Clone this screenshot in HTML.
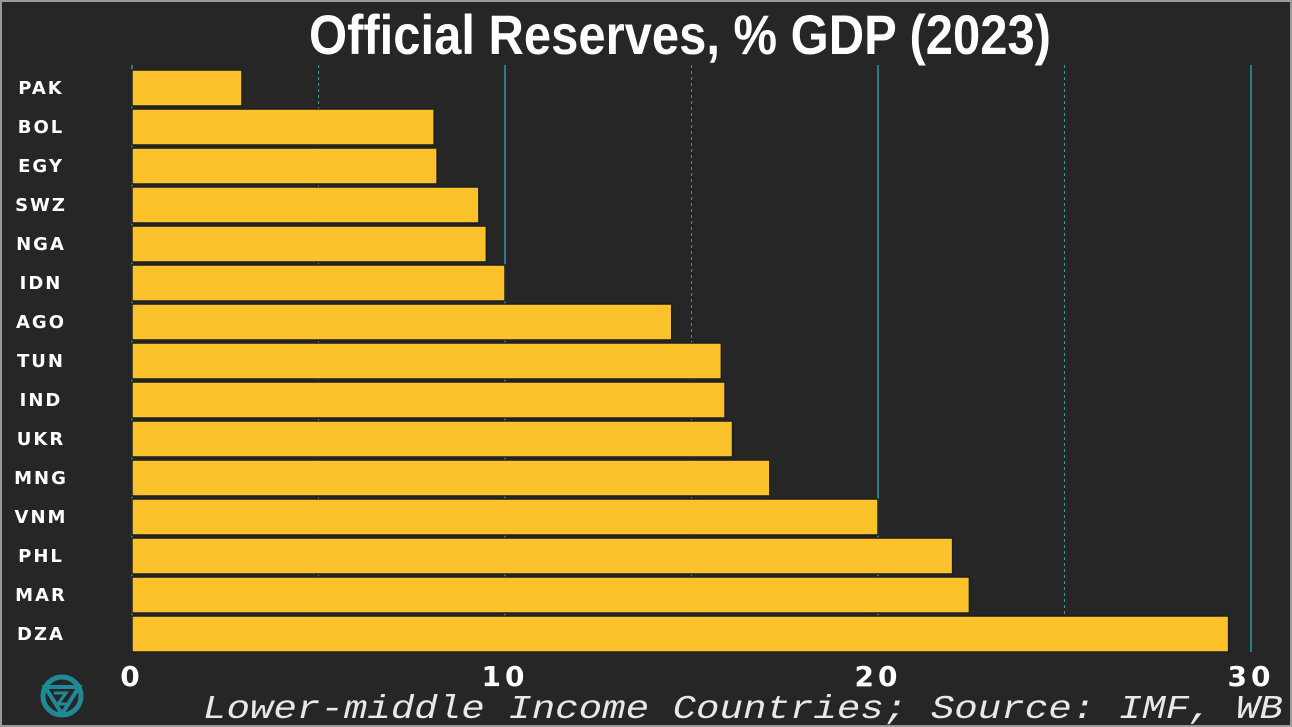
<!DOCTYPE html>
<html><head><meta charset="utf-8"><style>
html,body{margin:0;padding:0;background:#262626;}
svg{display:block;}
</style></head><body>
<svg id="chart" width="1292" height="727" xmlns="http://www.w3.org/2000/svg">
<rect x="1" y="1" width="1290" height="725" fill="#262626" stroke="#9a9a9a" stroke-width="2"/>
<text x="680" y="54" text-anchor="middle" font-family="'Liberation Sans Narrow','Liberation Sans',sans-serif" font-weight="bold" font-size="56" fill="#ffffff" textLength="742" lengthAdjust="spacingAndGlyphs">Official Reserves, % GDP (2023)</text>
<g id="grid"></g><g id="bars"></g><g id="labels"></g><g id="ticks"></g>
<text x="203" y="718" font-family="'Liberation Mono',monospace" font-style="italic" font-size="33" fill="#e8e8e8" textLength="1080" lengthAdjust="spacingAndGlyphs">Lower-middle Income Countries; Source: IMF, WB</text>
<g transform="translate(62,696)" fill="none" stroke="#1f8a96" stroke-width="5">
<circle r="19"/><path d="M-17,-9 L17,-9 L0,18 Z" stroke-width="4"/><path d="M-8,-3 L4,-3 L-4,8 L6,8" stroke-width="3"/>
</g>
</svg>
<script>
const categories=["PAK","BOL","EGY","SWZ","NGA","IDN","AGO","TUN","IND","UKR","MNG","VNM","PHL","MAR","DZA"];
const values=[2.95,8.1,8.18,9.3,9.5,10.0,14.47,15.8,15.9,16.1,17.1,20.0,22.0,22.45,29.4];
const majorTicks=[0,10,20,30];
const minorTicks=[5,15,25];
const NS="http://www.w3.org/2000/svg";
const x=v=>132+v*37.3;
const y=i=>70+i*39;
function mk(tag,attrs,parent){const e=document.createElementNS(NS,tag);for(const k in attrs)e.setAttribute(k,attrs[k]);parent.appendChild(e);return e;}
const grid=document.getElementById('grid'),bars=document.getElementById('bars'),labels=document.getElementById('labels'),ticks=document.getElementById('ticks');
majorTicks.forEach(t=>{
 const l=mk('line',{x1:x(t),x2:x(t),y1:65,y2:652,stroke:'#2a9aa6','stroke-width':1.5},grid);
 
 
 const tx=mk('text',{x:x(t),y:686,'text-anchor':'middle','font-family':"'DejaVu Sans',sans-serif",'font-weight':'bold','font-size':28,fill:'#ffffff','letter-spacing':4},ticks);
 tx.textContent=t;
 
 
});
minorTicks.forEach(t=>{
 const l=mk('line',{x1:x(t),x2:x(t),y1:65,y2:652,stroke:'#2a9aa6','stroke-width':1,'stroke-dasharray':'3,3'},grid);
 
 
});
categories.forEach((c,i)=>{
 const r=mk('rect',{x:x(0),y:y(i),width:x(values[i])-x(0),height:36,fill:'#fcc22c',stroke:'#1e1e1e','stroke-width':1.5},bars);
 
 
 const t=mk('text',{x:41,y:y(i)+24,'text-anchor':'middle','font-family':"'DejaVu Sans',sans-serif",'font-weight':'bold','font-size':18,fill:'#ffffff','letter-spacing':2},labels);
 t.textContent=c;
 
 
});
</script>
</body></html>
